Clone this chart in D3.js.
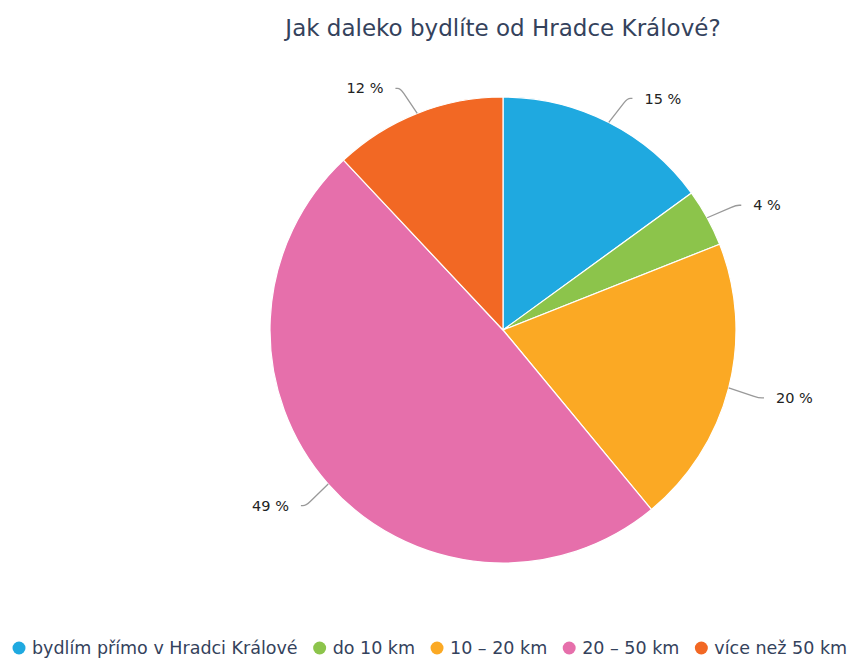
<!DOCTYPE html>
<html>
<head>
<meta charset="utf-8">
<script src="https://cdn.jsdelivr.net/npm/d3@7"></script>
<style>
  html, body { margin: 0; padding: 0; background: #fff; }
  svg { display: block; font-family: "DejaVu Sans", sans-serif; }
</style>
</head>
<body>
<svg id="chart" width="851" height="659"></svg>
<script>
// Survey answers: distance from Hradec Králové
const categories = ["bydlím přímo v Hradci Králové", "do 10 km", "10 – 20 km", "20 – 50 km", "více než 50 km"];
const shares = [15, 4, 20, 49, 12];
const labels = ["15 %", "4 %", "20 %", "49 %", "12 %"];
const colors = ["#1fa9e0", "#8cc44b", "#fba924", "#e66fab", "#f26824"];
const titleText = "Jak daleko bydlíte od Hradce Králové?";

const svg = d3.select("#chart");
const W = 851, H = 659;
const cx = 503, cy = 330, r = 233;

svg.append("text")
  .attr("x", cx).attr("y", 36)
  .attr("text-anchor", "middle")
  .attr("font-size", 23)
  .attr("fill", "#34425c")
  .text(titleText);

const data = categories.map((c, i) => ({ name: c, value: shares[i], label: labels[i], color: colors[i] }));

const pie = d3.pie().value(d => d.value).sort(null);
const arcs = pie(data);
const arc = d3.arc().innerRadius(0).outerRadius(r);

const g = svg.append("g").attr("transform", `translate(${cx},${cy})`);

g.selectAll("path.slice")
  .data(arcs)
  .join("path")
  .attr("class", "slice")
  .attr("d", arc)
  .attr("fill", d => d.data.color)
  .attr("stroke", "#fff")
  .attr("stroke-width", 1.2)
  .attr("stroke-linejoin", "round");

// Data labels with bent connectors
const labelR = r + 28;
arcs.forEach(a => {
  const mid = (a.startAngle + a.endAngle) / 2;
  const side = Math.sin(mid) >= 0 ? 1 : -1;
  const ex = Math.sin(mid) * r, ey = -Math.cos(mid) * r;
  const ly = -Math.cos(mid) * labelR + (Math.cos(mid) < 0 ? 3 : 1);
  const lx = side * Math.sqrt(labelR * labelR - ly * ly) + side * 21;
  const corner = [lx - side * 17, ly];
  const end = [lx - side * 12, ly];
  const vx = ex - corner[0], vy = ey - corner[1];
  const vl = Math.hypot(vx, vy);
  const c1 = [corner[0] + vx / vl * 6, corner[1] + vy / vl * 6];
  const c2 = [corner[0] + side * 3, corner[1]];
  g.append("path")
    .attr("d", `M${ex},${ey}L${c1[0]},${c1[1]}Q${corner[0]},${corner[1]} ${c2[0]},${c2[1]}L${end[0]},${end[1]}`)
    .attr("fill", "none")
    .attr("stroke", "#999")
    .attr("stroke-width", 1.3);
  g.append("text")
    .attr("x", lx).attr("y", ly)
    .attr("dy", "0.35em")
    .attr("text-anchor", side > 0 ? "start" : "end")
    .attr("font-size", 14.5)
    .attr("fill", "#222")
    .text(a.data.label);
});

// Legend
const legend = svg.append("g").attr("transform", "translate(19,648)");
const items = legend.selectAll("g.item").data(data).join("g").attr("class", "item");
items.append("circle").attr("r", 6.5).attr("cx", 0).attr("cy", 0).attr("fill", d => d.color);
items.append("text")
  .attr("x", 13).attr("y", 0).attr("dy", "0.35em")
  .attr("font-size", 17.5)
  .attr("fill", "#34425c")
  .text(d => d.name);
let x = 0;
const gap = 22;
items.each(function() {
  const w = this.querySelector("text").getComputedTextLength() + 13;
  d3.select(this).attr("transform", `translate(${x},0)`);
  x += w + gap;
});
</script>
</body>
</html>
